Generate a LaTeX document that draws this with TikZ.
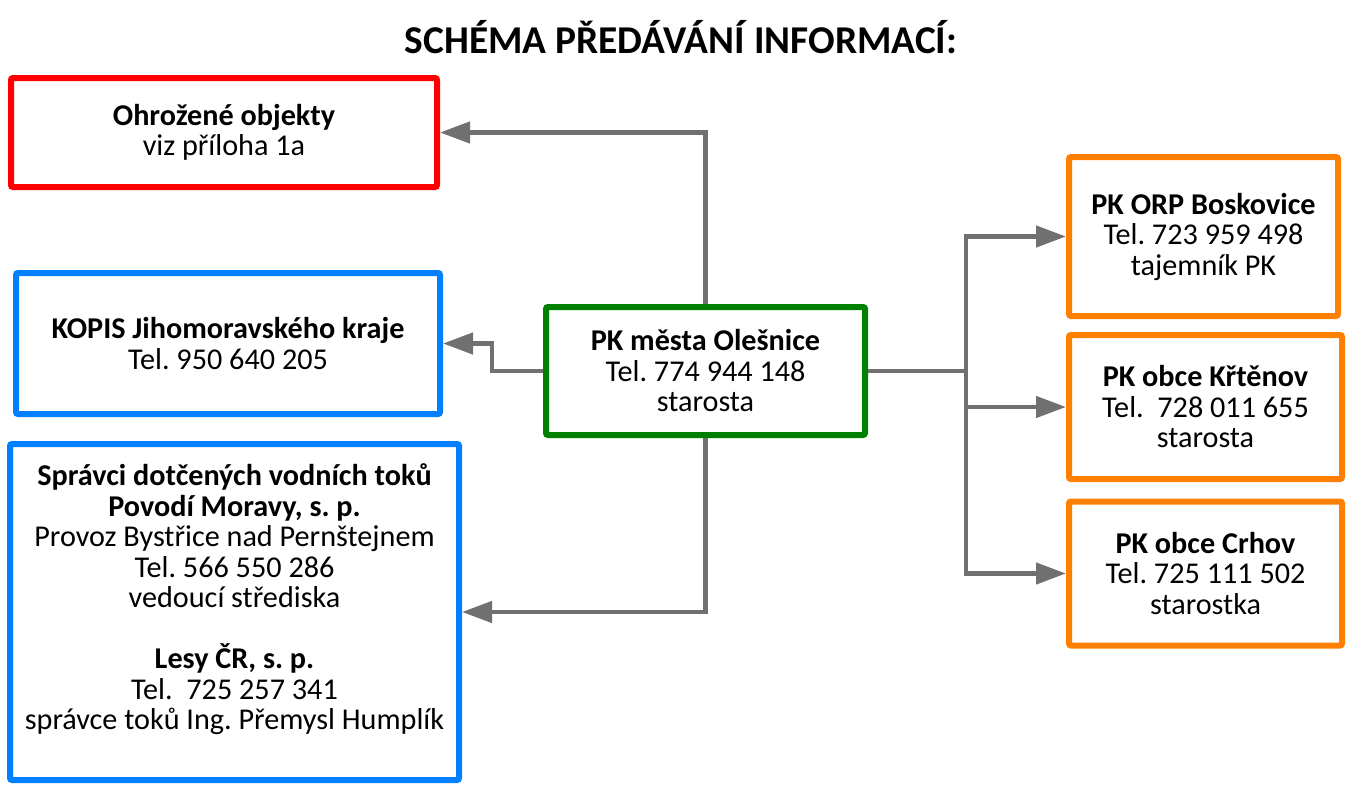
\documentclass[tikz,border=0pt]{standalone}
\usepackage{fontspec}
\setmainfont{Carlito}
\usetikzlibrary{arrows.meta}
\definecolor{boxred}{RGB}{255,0,0}
\definecolor{boxblue}{RGB}{0,128,255}
\definecolor{boxgreen}{RGB}{0,128,0}
\definecolor{boxorange}{RGB}{255,128,0}
\definecolor{conngray}{RGB}{112,112,112}
\frenchspacing
\begin{document}
\begin{tikzpicture}[x=1pt,y=-1pt,
  box/.style={draw,line width=6pt,rounded corners=2pt,align=center,inner sep=0pt,font=\fontsize{30.2}{30.5}\selectfont},
  conn/.style={draw=conngray,line width=4.5pt},
  tip/.style={-{Triangle[length=30pt,width=21pt]}}]
\useasboundingbox (0,0) rectangle (1360,787);
\node[font=\bfseries\fontsize{39.4}{45}\selectfont] (title) at (681,37) {SCHÉMA PŘEDÁVÁNÍ INFORMACÍ:};
\node[box,draw=boxred,minimum width=426,minimum height=109] (ohrozene) at (224,132.5) {\textbf{Ohrožené objekty}\\viz příloha 1a};
\node[box,draw=boxblue,minimum width=424,minimum height=141] (kopis) at (228,343.5) {\textbf{KOPIS Jihomoravského kraje}\\Tel. 950 640 205};
\node[box,draw=boxblue,minimum width=449,minimum height=336] (spravci) at (234.5,612) {\textbf{Správci dotčených vodních toků}\\\textbf{Povodí Moravy, s. p.}\\Provoz Bystřice nad Pernštejnem\\Tel. 566 550 286\\vedoucí střediska\\\mbox{}\\\textbf{Lesy ČR, s. p.}\\Tel.\ \ 725 257 341\\správce toků Ing. Přemysl Humplík\\\mbox{}};
\node[box,draw=boxgreen,minimum width=319,minimum height=128] (olesnice) at (705.5,371) {\textbf{PK města Olešnice}\\Tel. 774 944 148\\starosta};
\node[box,draw=boxorange,minimum width=269,minimum height=159] (orp) at (1203.5,236.5) {\textbf{PK ORP Boskovice}\\Tel. 723 959 498\\tajemník PK};
\node[box,draw=boxorange,minimum width=273,minimum height=144] (krtenov) at (1205.5,407) {\textbf{PK obce Křtěnov}\\Tel.\ \ 728 011 655\\starosta};
\node[box,draw=boxorange,minimum width=273,minimum height=144] (crhov) at (1205.5,573.5) {\textbf{PK obce Crhov}\\Tel. 725 111 502\\starostka};
\coordinate (split) at (966,371);
% vlevo
\draw[conn,tip] (olesnice.north) |- (ohrozene.east);
\draw[conn,tip] (olesnice.west) -- ++(-51,0) |- (kopis.east);
\draw[conn,tip] (olesnice.south) |- (spravci.east);
% vpravo
\draw[conn] (olesnice.east) -- (split);
\draw[conn,tip] (split) |- (orp.west);
\draw[conn,tip] (split) |- (krtenov.west);
\draw[conn,tip] (split) |- (crhov.west);
\end{tikzpicture}
\end{document}
